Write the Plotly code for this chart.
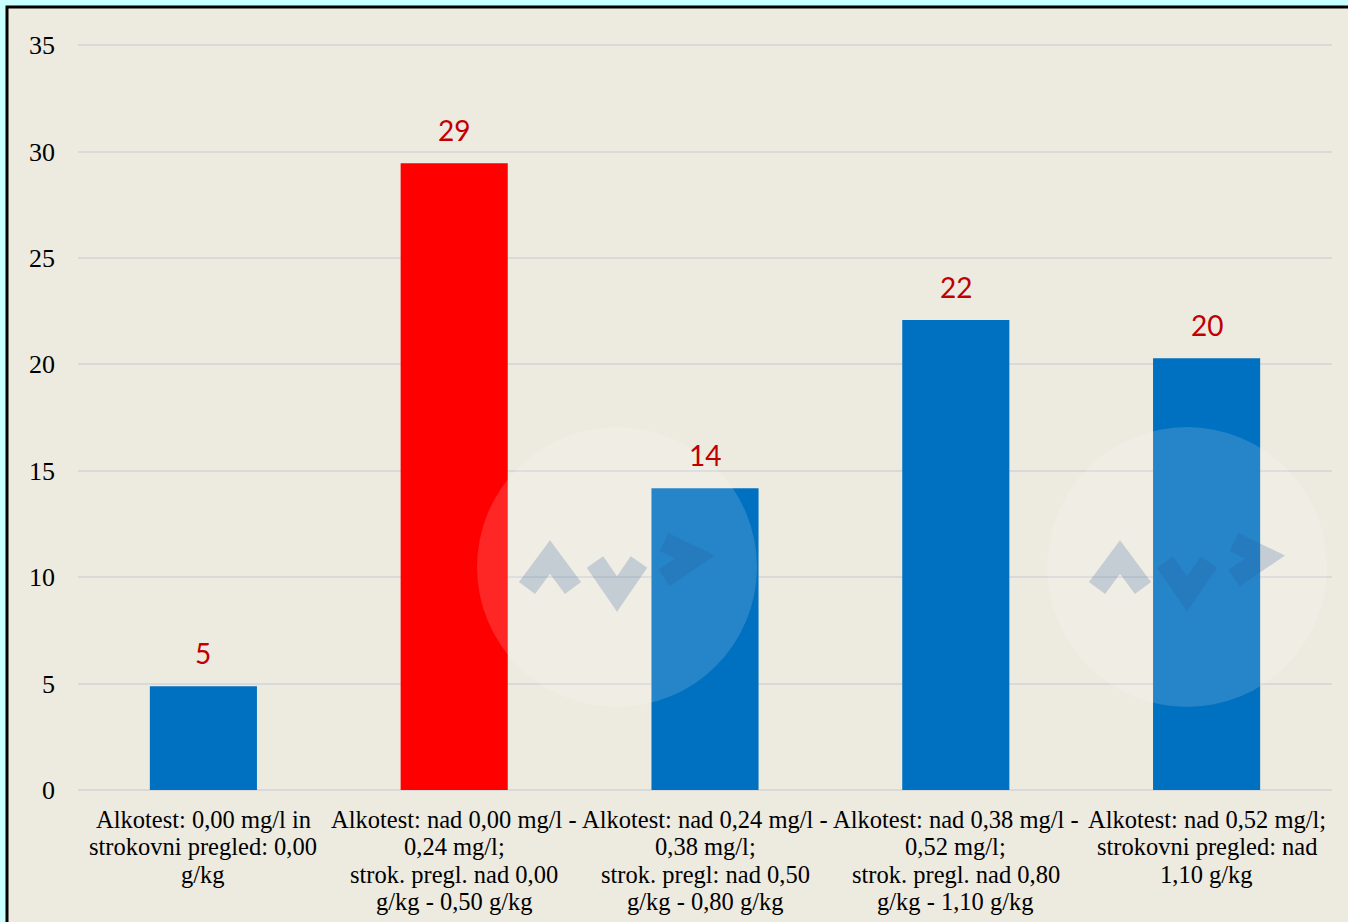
import plotly.graph_objects as go

categories = [
    "Alkotest: 0,00 mg/l in<br>strokovni pregled: 0,00<br>g/kg",
    "Alkotest: nad 0,00 mg/l -<br>0,24 mg/l;<br>strok. pregl. nad 0,00<br>g/kg - 0,50 g/kg",
    "Alkotest: nad 0,24 mg/l -<br>0,38 mg/l;<br>strok. pregl: nad 0,50<br>g/kg - 0,80 g/kg",
    "Alkotest: nad 0,38 mg/l -<br>0,52 mg/l;<br>strok. pregl. nad 0,80<br>g/kg - 1,10 g/kg",
    "Alkotest: nad 0,52 mg/l;<br>strokovni pregled: nad<br>1,10 g/kg",
]
values = [4.88, 29.45, 14.18, 22.08, 20.29]
value_labels = ["5", "29", "14", "22", "20"]
bar_colors = ["#0070C0", "#FF0000", "#0070C0", "#0070C0", "#0070C0"]
y_ticks = [0, 5, 10, 15, 20, 25, 30, 35]

SERIF = "'Liberation Serif', 'Times New Roman', serif"
W, H = 1348, 922
L, R, T, B = 78, 16, 43, 132
PW, PH = W - L - R, H - T - B


def px_x(px):
    return (px - L) / PW


def px_y(py):
    return (H - B - py) / PH


fig = go.Figure()
fig.add_trace(go.Bar(
    x=categories, y=values, marker=dict(color=bar_colors, line=dict(width=0)),
    hoverinfo="skip",
))

for c, v, t in zip(categories, values, value_labels):
    fig.add_annotation(x=c, y=v, text=t, showarrow=False, yanchor="bottom", yshift=14,
                       font=dict(family="Lato, 'Open Sans', sans-serif", size=28, color="#C00000"))

# category labels, one annotation per line (tight line spacing as in the original)
for c in categories:
    for i, line in enumerate(c.split("<br>")):
        fig.add_annotation(x=c, y=0, text=line, showarrow=False, yanchor="middle",
                           xanchor="center", yshift=-(29 + i * 27.6),
                           font=dict(family=SERIF, size=24.5, color="black"))

shapes = []
# outer frame
shapes.append(dict(type="rect", xref="paper", yref="paper", layer="below",
                   x0=px_x(7), x1=px_x(1400), y0=px_y(7), y1=px_y(1000),
                   fillcolor="#EDEAE0", line=dict(color="black", width=3)))

# watermark circles and logos
for cx, cy in [(617, 567), (1187, 567)]:
    r = 140
    shapes.append(dict(type="circle", xref="paper", yref="paper", layer="above",
                       x0=px_x(cx - r), x1=px_x(cx + r), y0=px_y(cy + r), y1=px_y(cy - r),
                       fillcolor="rgba(255,255,255,0.15)", line=dict(width=0)))
    dx = cx - 617
    strokes = [
        [(527, 588), (550, 557), (573, 588)],
        [(595, 562), (617, 594), (639, 562)],
        [(664, 542), (695, 557), (664, 578)],
    ]
    for s in strokes:
        path = "M " + " L ".join(f"{px_x(x + dx):.5f},{px_y(y):.5f}" for x, y in s)
        shapes.append(dict(type="path", xref="paper", yref="paper", layer="above", path=path,
                           line=dict(color="rgba(40,90,150,0.22)", width=20)))

fig.update_layout(
    width=W, height=H,
    margin=dict(l=L, r=R, t=T, b=B, pad=0, autoexpand=False),
    paper_bgcolor="#C8FFFF",
    plot_bgcolor="rgba(0,0,0,0)",
    showlegend=False,
    bargap=0.573,
    shapes=shapes,
    font=dict(family=SERIF, color="black"),
)
fig.update_xaxes(
    showticklabels=False, automargin=False,
    showgrid=False, showline=False, zeroline=False, ticks="",
    fixedrange=True,
)
fig.update_yaxes(
    range=[0, 35.1], tickvals=y_ticks, ticktext=[str(v) for v in y_ticks],
    tickfont=dict(family=SERIF, size=26, color="black"), automargin=False,
    showgrid=True, gridcolor="#D9D9D9", gridwidth=2,
    zeroline=True, zerolinecolor="#D9D9D9", zerolinewidth=2,
    showline=False, ticks="", ticklabelstandoff=22, fixedrange=True,
)

fig.write_html("out.html", config={"displayModeBar": False},
               post_script="document.body.style.margin='0';document.body.style.overflow='hidden';")
